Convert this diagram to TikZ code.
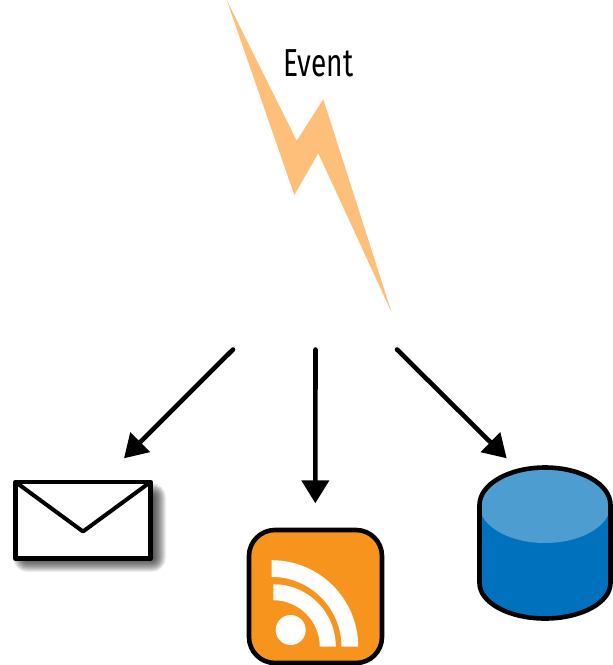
\documentclass[tikz,border=0pt]{standalone}
\usepackage{fontspec}
\setmainfont{Fira Sans}
\usetikzlibrary{arrows.meta}
\definecolor{boltorange}{HTML}{FDBF7A}
\definecolor{rssorange}{HTML}{F7941E}
\definecolor{dbblue}{HTML}{0071BC}
\definecolor{dblight}{HTML}{4D9DD0}
\tikzset{
  x=1pt,y=-1pt,
  flow/.style={line width=4.6pt,line cap=round,-{Triangle[length=23pt,width=27pt]}},
  outline/.style={draw=black,line width=4.6pt,line join=round},
}
\begin{document}
\begin{tikzpicture}
\useasboundingbox (0,0) rectangle (613,665);

% lightning bolt and its label
\fill[boltorange] (226.7,0) -- (296.7,140.7) -- (323.3,99.3) -- (391.7,312.7)
  -- (318.3,153.3) -- (294.3,195) -- cycle;
\node[anchor=base,transform shape,xscale=.72,inner sep=0,font=\fontsize{39}{39}\selectfont] (event) at (318.5,76) {Event};

% mail icon with a soft shadow
\foreach \g in {28,27,...,0}
  \fill[black,opacity=.04,rounded corners=\g*.5pt]
    (27-\g*.5,497-\g*.5) rectangle (152+\g*.5,558+\g*.5);
\draw[outline,fill=white] (15.5,482) rectangle (150.5,558.5);
\draw[outline,line width=4pt] (15.5,482) -- (83,531.5) -- (150.5,482);
\coordinate (mail) at (124,458.3);

% feed icon
\draw[outline,fill=rssorange,rounded corners=26pt] (249,530) rectangle (382,663);
\fill[white] (271.7,560.2) arc[start angle=-90,end angle=0,radius=86.5]
  -- ++(-16.7,0) arc[start angle=0,end angle=-90,radius=69.8] -- cycle;
\fill[white] (273.3,584.2) arc[start angle=-90,end angle=0,radius=62.5]
  -- ++(-16,0) arc[start angle=0,end angle=-90,radius=46.5] -- cycle;
\fill[white] (290.7,630) circle[radius=15];
\coordinate (feed) at (315.3,503.3);

% database icon
\fill[dbblue] (479.5,505) arc[start angle=180,end angle=360,x radius=65.5,y radius=37.5]
  -- (610.5,583) arc[start angle=0,end angle=180,x radius=65.5,y radius=35.5] -- cycle;
\fill[dblight] (545,505) ellipse[x radius=65.5,y radius=38];
\draw[outline,fill=none] (479.5,505) arc[start angle=180,end angle=360,x radius=65.5,y radius=37.5]
  -- (610.5,583) arc[start angle=0,end angle=180,x radius=65.5,y radius=35.5] -- cycle;
\coordinate (store) at (506.7,458.3);

% fan-out connectors
\coordinate (left) at (233,349.5);
\coordinate (middle) at (315.5,349.5);
\coordinate (right) at (397,349.5);
\draw[flow] (left) -- (mail);
\draw[flow] (middle) -- (feed);
\draw[flow] (right) -- (store);
\end{tikzpicture}
\end{document}
